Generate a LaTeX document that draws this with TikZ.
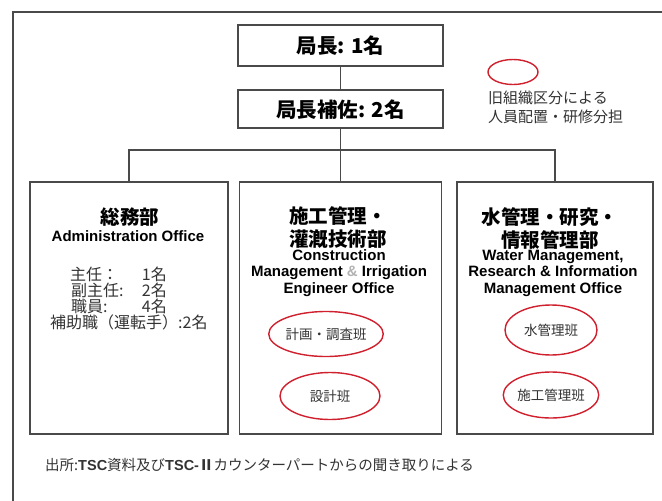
\documentclass[tikz,border=0pt]{standalone}
\usepackage{fontspec}
\setmainfont{Noto Sans CJK JP}
\newfontfamily\latin{Liberation Sans}
\usetikzlibrary{shapes.geometric}
\definecolor{boxline}{HTML}{4A4A4A}
\definecolor{ovalred}{HTML}{D0202E}
\definecolor{txtgray}{HTML}{333333}
\tikzset{
  frameline/.style={draw=boxline, line width=1.4pt},
  boxstyle/.style={draw=boxline, line width=1.3pt, rectangle, inner sep=0pt},
  conn/.style={draw=boxline, line width=1.1pt},
  oval/.style={draw=ovalred, line width=1.4pt, ellipse, inner sep=0pt, text=txtgray, font=\fontsize{13.5}{16}\selectfont},
  toptxt/.style={font=\bfseries\fontsize{20.5}{22}\selectfont, inner sep=0pt},
  jtitle/.style={font=\bfseries\fontsize{19.5}{23}\selectfont, align=center, inner sep=0pt},
  etitle/.style={font=\latin\bfseries\fontsize{15}{16.5}\selectfont, align=center, inner sep=0pt},
  listtxt/.style={font=\fontsize{16}{16}\selectfont, inner sep=0pt, text=txtgray},
  plain/.style={inner sep=0pt, text=txtgray},
}
\begin{document}
\begin{tikzpicture}[x=1pt, y=-1pt]
\useasboundingbox (0,0) rectangle (662,501);
\fill[white] (0,0) rectangle (662,501);
% outer frame (only top and left visible)
\draw[frameline] (13,501) -- (13,12) -- (662,12);

% top boxes
\node[boxstyle, minimum width=205pt, minimum height=41pt] (b1) at (340.5,45.5) {};
\node[toptxt] (t1) at (340.5,46) {局長: 1名};
\node[boxstyle, minimum width=205pt, minimum height=38pt] (b2) at (340.5,109) {};
\node[toptxt] (t2) at (340.5,110) {局長補佐: 2名};

% legend
\node[draw=ovalred, line width=1.4pt, ellipse, minimum width=50pt, minimum height=25pt] (lego) at (513,72) {};
\node[plain, anchor=north west, align=left, font=\fontsize{15}{19.5}\selectfont] (legt) at (488,90.5) {旧組織区分による\\人員配置・研修分担};

% department boxes
\node[boxstyle, minimum width=198pt, minimum height=252pt] (bA) at (129,308) {};
\node[boxstyle, minimum width=202pt, minimum height=252pt] (bB) at (340.5,308) {};
\node[boxstyle, minimum width=196pt, minimum height=252pt] (bC) at (555,308) {};

% connectors
\coordinate (bus) at (340.5,150);
\draw[conn] (b1.south) -- (b2.north);
\draw[conn] (b2.south) -- (bB.north);
\draw[conn] (bA.north) |- (bus) -| (bC.north);

% box A content
\node[jtitle] (aj) at (130,217) {総務部};
\node[etitle] (ae) at (128,236) {Administration Office};
\node[listtxt, anchor=west] (a1l) at (70,274) {主任：};
\node[listtxt, anchor=east] (a1r) at (167,274) {1名};
\node[listtxt, anchor=west] (a2l) at (71,290) {副主任:};
\node[listtxt, anchor=east] (a2r) at (167,290) {2名};
\node[listtxt, anchor=west] (a3l) at (71,306) {職員:};
\node[listtxt, anchor=east] (a3r) at (167,306) {4名};
\node[listtxt, anchor=west] (a4) at (50,322) {補助職（運転手）:2名};

% box B content
\node[jtitle] (bj) at (338,227.5) {施工管理・\\灌漑技術部};
\node[etitle] (be) at (339,273) {Construction\\Management \textcolor{gray!60}{\&} Irrigation\\Engineer Office};
\node[oval, minimum width=98pt, minimum height=45pt] (b_o1) at (326,334) {計画・調査班};
\node[oval, minimum width=100pt, minimum height=47pt] (b_o2) at (330,396) {設計班};

% box C content
\node[jtitle] (cj) at (550,228.5) {水管理・研究・\\情報管理部};
\node[etitle] (ce) at (553,273) {Water Management,\\Research \& Information\\Management Office};
\node[oval, minimum width=92pt, minimum height=50pt] (c_o1) at (551,330) {水管理班};
\node[oval, minimum width=93pt, minimum height=46pt] (c_o2) at (551,395) {施工管理班};

% footer
\node[plain, anchor=west, font=\fontsize{14.5}{16}\selectfont] (foot) at (45,465) {出所:{\latin\bfseries TSC}資料及び{\latin\bfseries TSC-}{\bfseries Ⅱ}カウンターパートからの聞き取りによる};
\end{tikzpicture}
\end{document}
